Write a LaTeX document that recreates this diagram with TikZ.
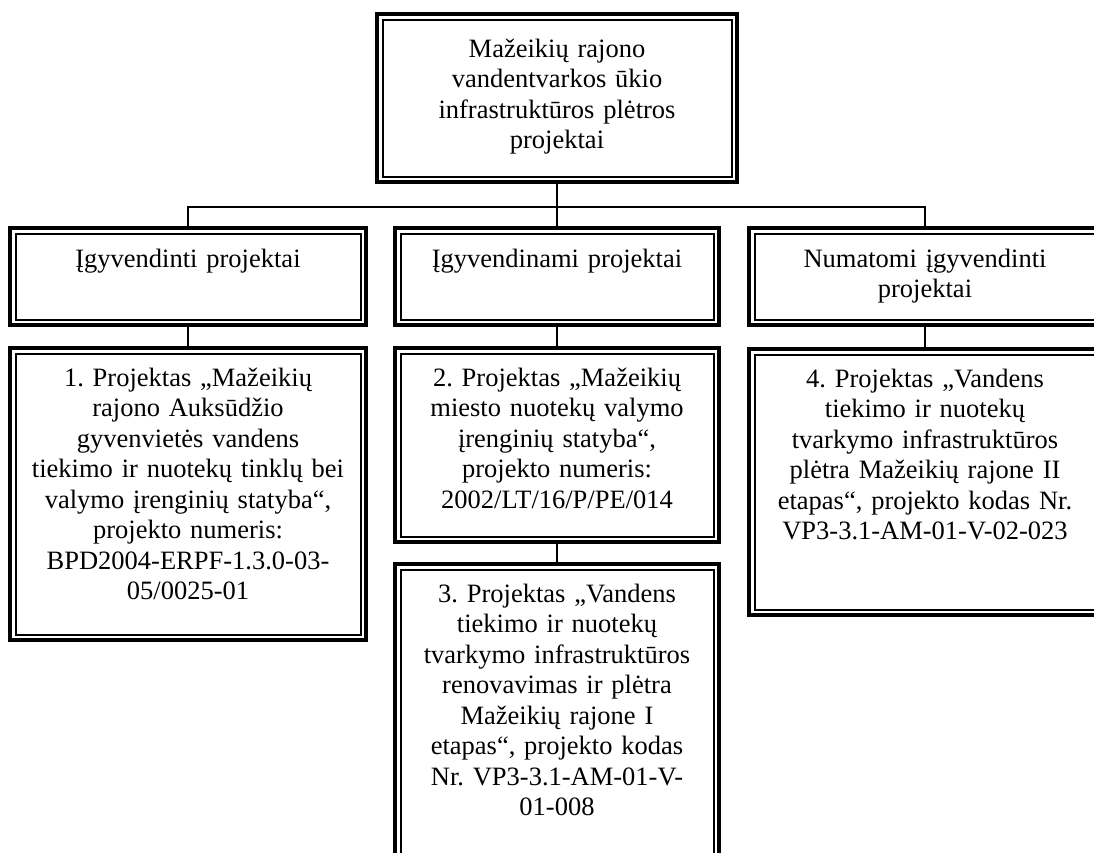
\documentclass[tikz,border=0pt]{standalone}
\usepackage{fontspec}
\setmainfont{Liberation Serif}
\usetikzlibrary{positioning}
\frenchspacing
\tikzset{
  frame/.style={draw,line width=3.5pt,inner sep=0pt,
    path picture={\draw[line width=2pt]
      ([shift={(5.5pt,-5.5pt)}]path picture bounding box.north west) rectangle
      ([shift={(-5.5pt,5.5pt)}]path picture bounding box.south east);}},
  txt/.style={align=center,text width=#1,inner sep=0pt,anchor=base,
    font=\fontsize{26.5}{30.5}\selectfont},
  link/.style={line width=2pt}
}

\begin{document}
\begin{tikzpicture}[x=1pt,y=-1pt]
\useasboundingbox (0,0) rectangle (1094,852);
\clip (0,0) rectangle (1094,852);

\node[frame,minimum width=360pt,minimum height=168pt] (top) at (557,98) {};
\node[frame,minimum width=356pt,minimum height=97pt] (A1) at (188,276.5) {};
\node[frame,minimum width=324pt,minimum height=97pt] (A2) at (557,276.5) {};
\node[frame,minimum width=352pt,minimum height=97pt] (A3) at (925,276.5) {};
\node[frame,minimum width=356pt,minimum height=292pt] (B1) at (188,494) {};
\node[frame,minimum width=324pt,minimum height=194pt] (B2) at (557,445) {};
\node[frame,minimum width=324pt,minimum height=316pt] (B3) at (557,722) {};
\node[frame,minimum width=352pt,minimum height=266pt] (B4) at (925,482) {};
\coordinate (bus) at (557,206.5);

\node[txt=340pt] (tTop) at ([yshift=-45pt]top.north) {Mažeikių rajono\\vandentvarkos ūkio\\infrastruktūros plėtros\\projektai};
\node[txt=340pt] (tA1) at ([yshift=-41pt]A1.north) {Įgyvendinti projektai};
\node[txt=310pt] (tA2) at ([yshift=-41pt]A2.north) {Įgyvendinami projektai};
\node[txt=340pt] (tA3) at ([yshift=-41pt]A3.north) {Numatomi įgyvendinti\\projektai};
\node[txt=340pt] (tB1) at ([yshift=-40pt]B1.north) {1. Projektas „Mažeikių\\rajono Auksūdžio\\gyvenvietės vandens\\tiekimo ir nuotekų tinklų bei\\valymo įrenginių statyba“,\\projekto numeris:\\BPD2004-ERPF-1.3.0-03-\\05/0025-01};
\node[txt=310pt] (tB2) at ([yshift=-40pt]B2.north) {2. Projektas „Mažeikių\\miesto nuotekų valymo\\įrenginių statyba“,\\projekto numeris:\\2002/LT/16/P/PE/014};
\node[txt=310pt] (tB3) at ([yshift=-40pt]B3.north) {3. Projektas „Vandens\\tiekimo ir nuotekų\\tvarkymo infrastruktūros\\renovavimas ir plėtra\\Mažeikių rajone I\\etapas“, projekto kodas\\Nr. VP3-3.1-AM-01-V-\\01-008};
\node[txt=340pt] (tB4) at ([yshift=-40pt]B4.north) {4. Projektas „Vandens\\tiekimo ir nuotekų\\tvarkymo infrastruktūros\\plėtra Mažeikių rajone II\\etapas“, projekto kodas Nr.\\VP3-3.1-AM-01-V-02-023};

\draw[link] (top) -- (A2);
\draw[link] (A1.north) |- (bus) -| (A3.north);
\draw[link] (A1) -- (B1);
\draw[link] (A2) -- (B2);
\draw[link] (B2) -- (B3);
\draw[link] (A3) -- (B4);
\end{tikzpicture}
\end{document}
